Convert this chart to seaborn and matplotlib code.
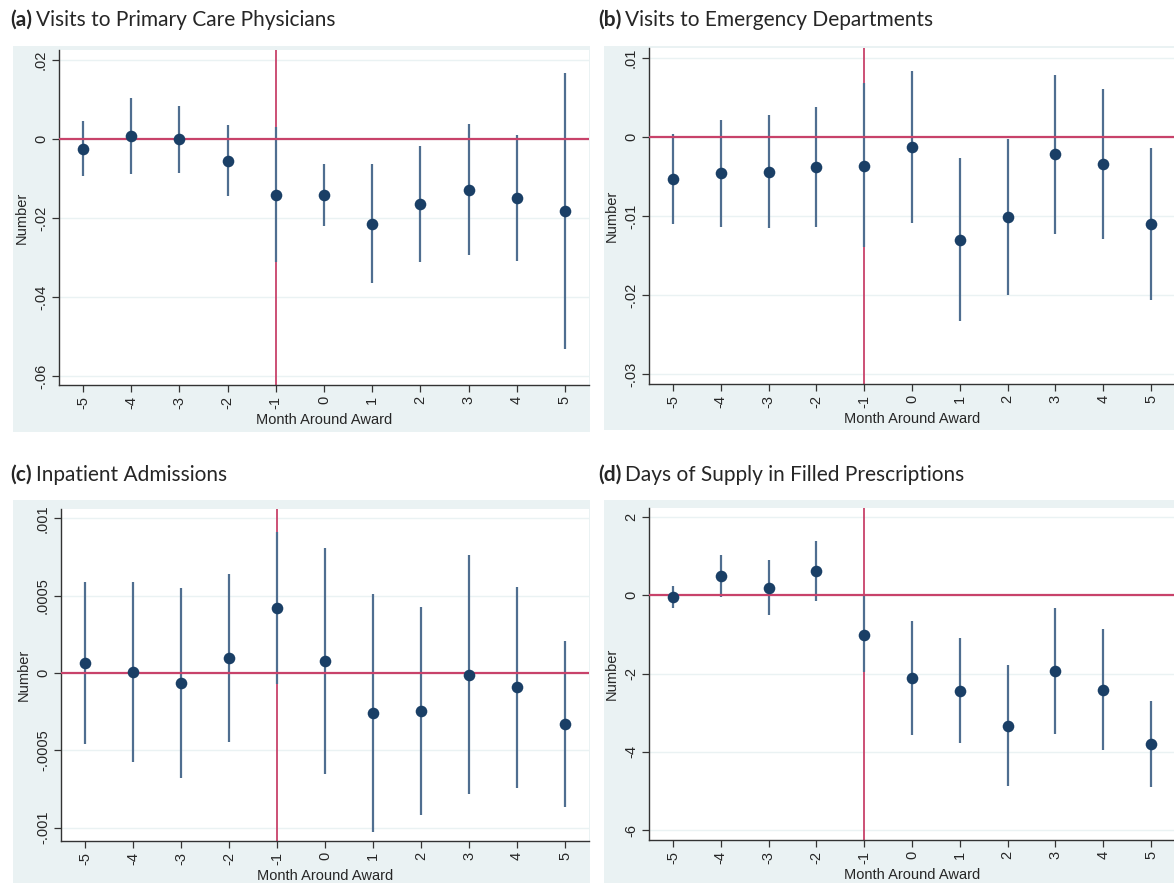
import matplotlib
matplotlib.use("Agg")
import matplotlib.pyplot as plt
import matplotlib.patches as mpatches
import seaborn as sns
import pandas as pd
import numpy as np

months = [-5, -4, -3, -2, -1, 0, 1, 2, 3, 4, 5]

# (a) Visits to Primary Care Physicians
a_est = [-0.00245, 0.00068, -0.0001, -0.00557, -0.0141, -0.0142, -0.0215, -0.0166, -0.0130, -0.0149, -0.0183]
a_lo = [-0.00937, -0.00886, -0.0086, -0.0145, -0.0311, -0.0220, -0.0366, -0.0312, -0.0295, -0.0308, -0.0532]
a_hi = [0.00447, 0.0103, 0.00844, 0.00346, 0.00295, -0.0063, -0.0063, -0.0019, 0.0037, 0.0009, 0.0167]
a_ticks = [0.02, 0, -0.02, -0.04, -0.06]
a_ticklabels = [".02", "0", "-.02", "-.04", "-.06"]

# (b) Visits to Emergency Departments
b_est = [-0.00528, -0.0046, -0.00443, -0.00383, -0.00362, -0.00128, -0.01302, -0.01013, -0.00221, -0.00345, -0.01102]
b_lo = [-0.01098, -0.01132, -0.01153, -0.01136, -0.01387, -0.01089, -0.02323, -0.0200, -0.01226, -0.01294, -0.0206]
b_hi = [0.00034, 0.00217, 0.00272, 0.00374, 0.00677, 0.00834, -0.00268, -0.00021, 0.00787, 0.00604, -0.0014]
b_ticks = [0.01, 0, -0.01, -0.02, -0.03]
b_ticklabels = [".01", "0", "-.01", "-.02", "-.03"]

# (c) Inpatient Admissions
c_est = [0.0000624, 0.0000043, -0.0000667, 0.0000968, 0.000417, 0.0000796, -0.00026, -0.000247, -0.0000129, -0.0000925, -0.000331]
c_lo = [-0.000462, -0.000578, -0.000682, -0.000447, -0.0000688, -0.00065, -0.001026, -0.000918, -0.000785, -0.000742, -0.000867]
c_hi = [0.000587, 0.000585, 0.000551, 0.000643, 0.00091, 0.000809, 0.000508, 0.000426, 0.000761, 0.000559, 0.000209]
c_ticks = [0.001, 0.0005, 0, -0.0005, -0.001]
c_ticklabels = [".001", ".0005", "0", "-.0005", "-.001"]

# (d) Days of Supply in Filled Prescriptions
d_est = [-0.0425, 0.485, 0.187, 0.612, -1.012, -2.117, -2.44, -3.33, -1.93, -2.41, -3.81]
d_lo = [-0.323, -0.0425, -0.51, -0.136, -1.955, -3.58, -3.78, -4.87, -3.54, -3.94, -4.90]
d_hi = [0.238, 1.02, 0.893, 1.377, -0.03, -0.655, -1.088, -1.77, -0.323, -0.867, -2.71]
d_ticks = [2, 0, -2, -4, -6]
d_ticklabels = ["2", "0", "-2", "-4", "-6"]

titles_bold = ["(a)", "(b)", "(c)", "(d)"]
titles = ["Visits to Primary Care Physicians", "Visits to Emergency Departments",
          "Inpatient Admissions", "Days of Supply in Filled Prescriptions"]
xlabel = "Month Around Award"
ylabel = "Number"

sns.set_theme(style="white")
plt.rcParams["font.family"] = ["Liberation Sans", "DejaVu Sans"]

W, H = 1174, 883
fig = plt.figure(figsize=(W / 100, H / 100), dpi=100)
fig.patch.set_facecolor("white")

BG = "#eaf2f3"
NAVY = "#1a3f66"
CI = "#4f6e90"
RED = "#c8426a"

def px_rect(x0, y0, x1, y1):
    return [x0 / W, 1 - y1 / H, (x1 - x0) / W, (y1 - y0) / H]

panels = [
    dict(est=a_est, lo=a_lo, hi=a_hi, ticks=a_ticks, labels=a_ticklabels, ylim=(-0.0623, 0.0225),
         bg=(13, 46, 590, 432), ax=(59, 50, 589, 385), title=(10, 20)),
    dict(est=b_est, lo=b_lo, hi=b_hi, ticks=b_ticks, labels=b_ticklabels, ylim=(-0.0312, 0.01123),
         bg=(604, 46, 1174, 430), ax=(649, 48, 1175, 384), title=(598, 20)),
    dict(est=c_est, lo=c_lo, hi=c_hi, ticks=c_ticks, labels=c_ticklabels, ylim=(-0.001086, 0.00106),
         bg=(13, 500, 590, 883), ax=(61, 509, 589, 841), title=(10, 475)),
    dict(est=d_est, lo=d_lo, hi=d_hi, ticks=d_ticks, labels=d_ticklabels, ylim=(-6.25, 2.23),
         bg=(604, 500, 1174, 883), ax=(649, 508, 1175, 840), title=(598, 475)),
]

for i, p in enumerate(panels):
    x0, y0, x1, y1 = p["bg"]
    rect = mpatches.Rectangle((x0 / W, 1 - y1 / H), (x1 - x0) / W, (y1 - y0) / H,
                              transform=fig.transFigure, facecolor=BG,
                              edgecolor="none", zorder=-10)
    fig.add_artist(rect)
    ax = fig.add_axes(px_rect(*p["ax"]))
    ax.set_zorder(1)
    ax.set_facecolor("white")
    df = pd.DataFrame({"month": months, "est": p["est"], "lo": p["lo"], "hi": p["hi"]})

    for t in p["ticks"]:
        ax.axhline(t, color=BG, lw=1.0, zorder=0.5)
    ax.axvline(-1, color=RED, lw=1.3, zorder=1)
    ax.vlines(df["month"], df["lo"], df["hi"], color=CI, lw=1.6, zorder=2)
    ax.axhline(0, color=RED, lw=1.6, zorder=3)
    sns.scatterplot(data=df, x="month", y="est", ax=ax, color=NAVY, s=70,
                    edgecolor=NAVY, linewidth=0, zorder=4, legend=False)

    ax.set_xlim(-5.5, 5.5)
    ax.set_ylim(*p["ylim"])
    ax.set_xticks(months)
    ax.set_xticklabels([str(m) for m in months], rotation=90, fontsize=10.5)
    ax.set_yticks(p["ticks"])
    ax.set_yticklabels(p["labels"], rotation=90, fontsize=10.5, va="center")
    ax.tick_params(axis="both", direction="out", length=5, width=0.9, color="#333333",
                   left=True, bottom=True, pad=3)
    ax.set_xlabel(xlabel, fontsize=10.5, labelpad=3)
    ax.set_ylabel(ylabel, fontsize=10.5, labelpad=4)
    for s in ["top", "right"]:
        ax.spines[s].set_visible(False)
    for s in ["left", "bottom"]:
        ax.spines[s].set_color("#333333")
        ax.spines[s].set_linewidth(1.0)

    tx, ty = p["title"]
    t1 = fig.text(tx / W, 1 - ty / H, titles_bold[i], fontsize=15, fontweight="bold",
                  family=["Lato", "DejaVu Sans"], va="center", ha="left")
    fig.canvas.draw()
    bb = t1.get_window_extent()
    fig.text(bb.x1 / W + 4 / W, 1 - ty / H, titles[i], fontsize=15,
             family=["Lato", "DejaVu Sans"], va="center", ha="left")

fig.savefig("out.png", dpi=100)
